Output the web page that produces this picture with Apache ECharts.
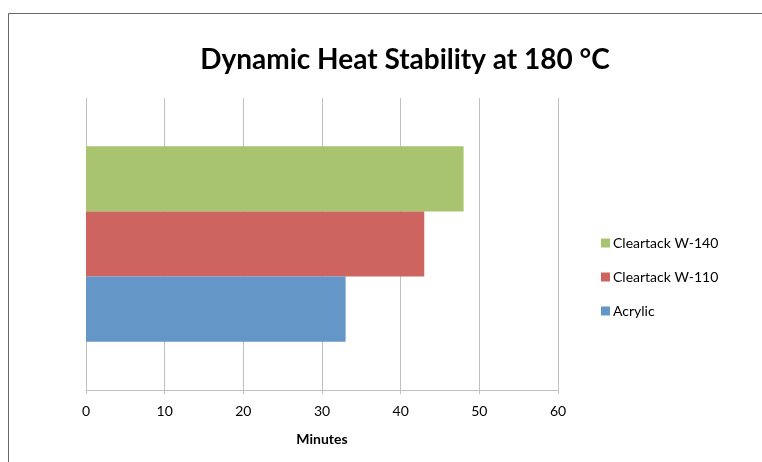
<!DOCTYPE html>
<html>
<head>
<meta charset="utf-8">
<script src="https://cdn.jsdelivr.net/npm/echarts@6/dist/echarts.min.js"></script>
<style>
  html, body { margin: 0; padding: 0; background: #fff; }
  #chart { width: 762px; height: 462px; }
</style>
</head>
<body>
<div id="chart"></div>
<script>
// data
var categories = ['Heat stability'];
var seriesNames = ['Cleartack W-140', 'Cleartack W-110', 'Acrylic'];
var cleartack140 = [48];
var cleartack110 = [43];
var acrylic = [33];
var xTicks = [0, 60, 10]; // min, max, interval

// first series draws at the top of the band in echarts
var colors = ['#A9C46E', '#CD6460', '#6596C8'];
var valueLists = [cleartack140, cleartack110, acrylic];

var chart = echarts.init(document.getElementById('chart'));

var series = seriesNames.map(function(name, i) {
	return {
		name: name,
		type: 'bar',
		data: valueLists[i],
		barGap: '0%',
		barCategoryGap: '33%',
		itemStyle: { color: colors[i] }
	};
});

chart.setOption({
	animation: false,
	backgroundColor: '#fff',
	textStyle: { fontFamily: 'Lato' },
	title: {
		text: 'Dynamic Heat Stability at 180 °C',
		left: 400,
		textAlign: 'center',
		top: 41,
		textStyle: { fontFamily: 'Lato', fontSize: 28, fontWeight: 'bold', color: '#000' }
	},
	graphic: [{
		type: 'rect',
		shape: { x: 8.5, y: 13.5, width: 800, height: 500 },
		style: { fill: 'none', stroke: '#666', lineWidth: 1 },
		silent: true
	}],
	legend: {
		orient: 'vertical',
		left: 596,
		top: 231,
		itemWidth: 9,
		itemHeight: 9,
		itemGap: 20,
		icon: 'rect',
		data: ['Cleartack W-140', 'Cleartack W-110', 'Acrylic'],
		textStyle: { fontFamily: 'Lato', fontSize: 14, color: '#000', padding: [0, 0, 0, -2] }
	},
	grid: { left: 86, right: 204, top: 98, bottom: 72 },
	xAxis: {
		type: 'value',
		min: xTicks[0],
		max: xTicks[1],
		interval: xTicks[2],
		name: 'Minutes',
		nameLocation: 'middle',
		nameGap: 42,
		nameTextStyle: { fontFamily: 'Lato', fontSize: 14, fontWeight: 'bold', color: '#000' },
		axisLine: { show: true, lineStyle: { color: '#BFBFBF' } },
		axisTick: { show: true, length: 4, lineStyle: { color: '#BFBFBF' } },
		axisLabel: { fontSize: 14, color: '#000', margin: 14 },
		splitLine: { show: true, lineStyle: { color: '#BFBFBF', width: 1 } }
	},
	yAxis: {
		type: 'category',
		data: categories,
		axisLine: { show: false },
		axisTick: { show: false },
		axisLabel: { show: false }
	},
	series: series
});
</script>
</body>
</html>
